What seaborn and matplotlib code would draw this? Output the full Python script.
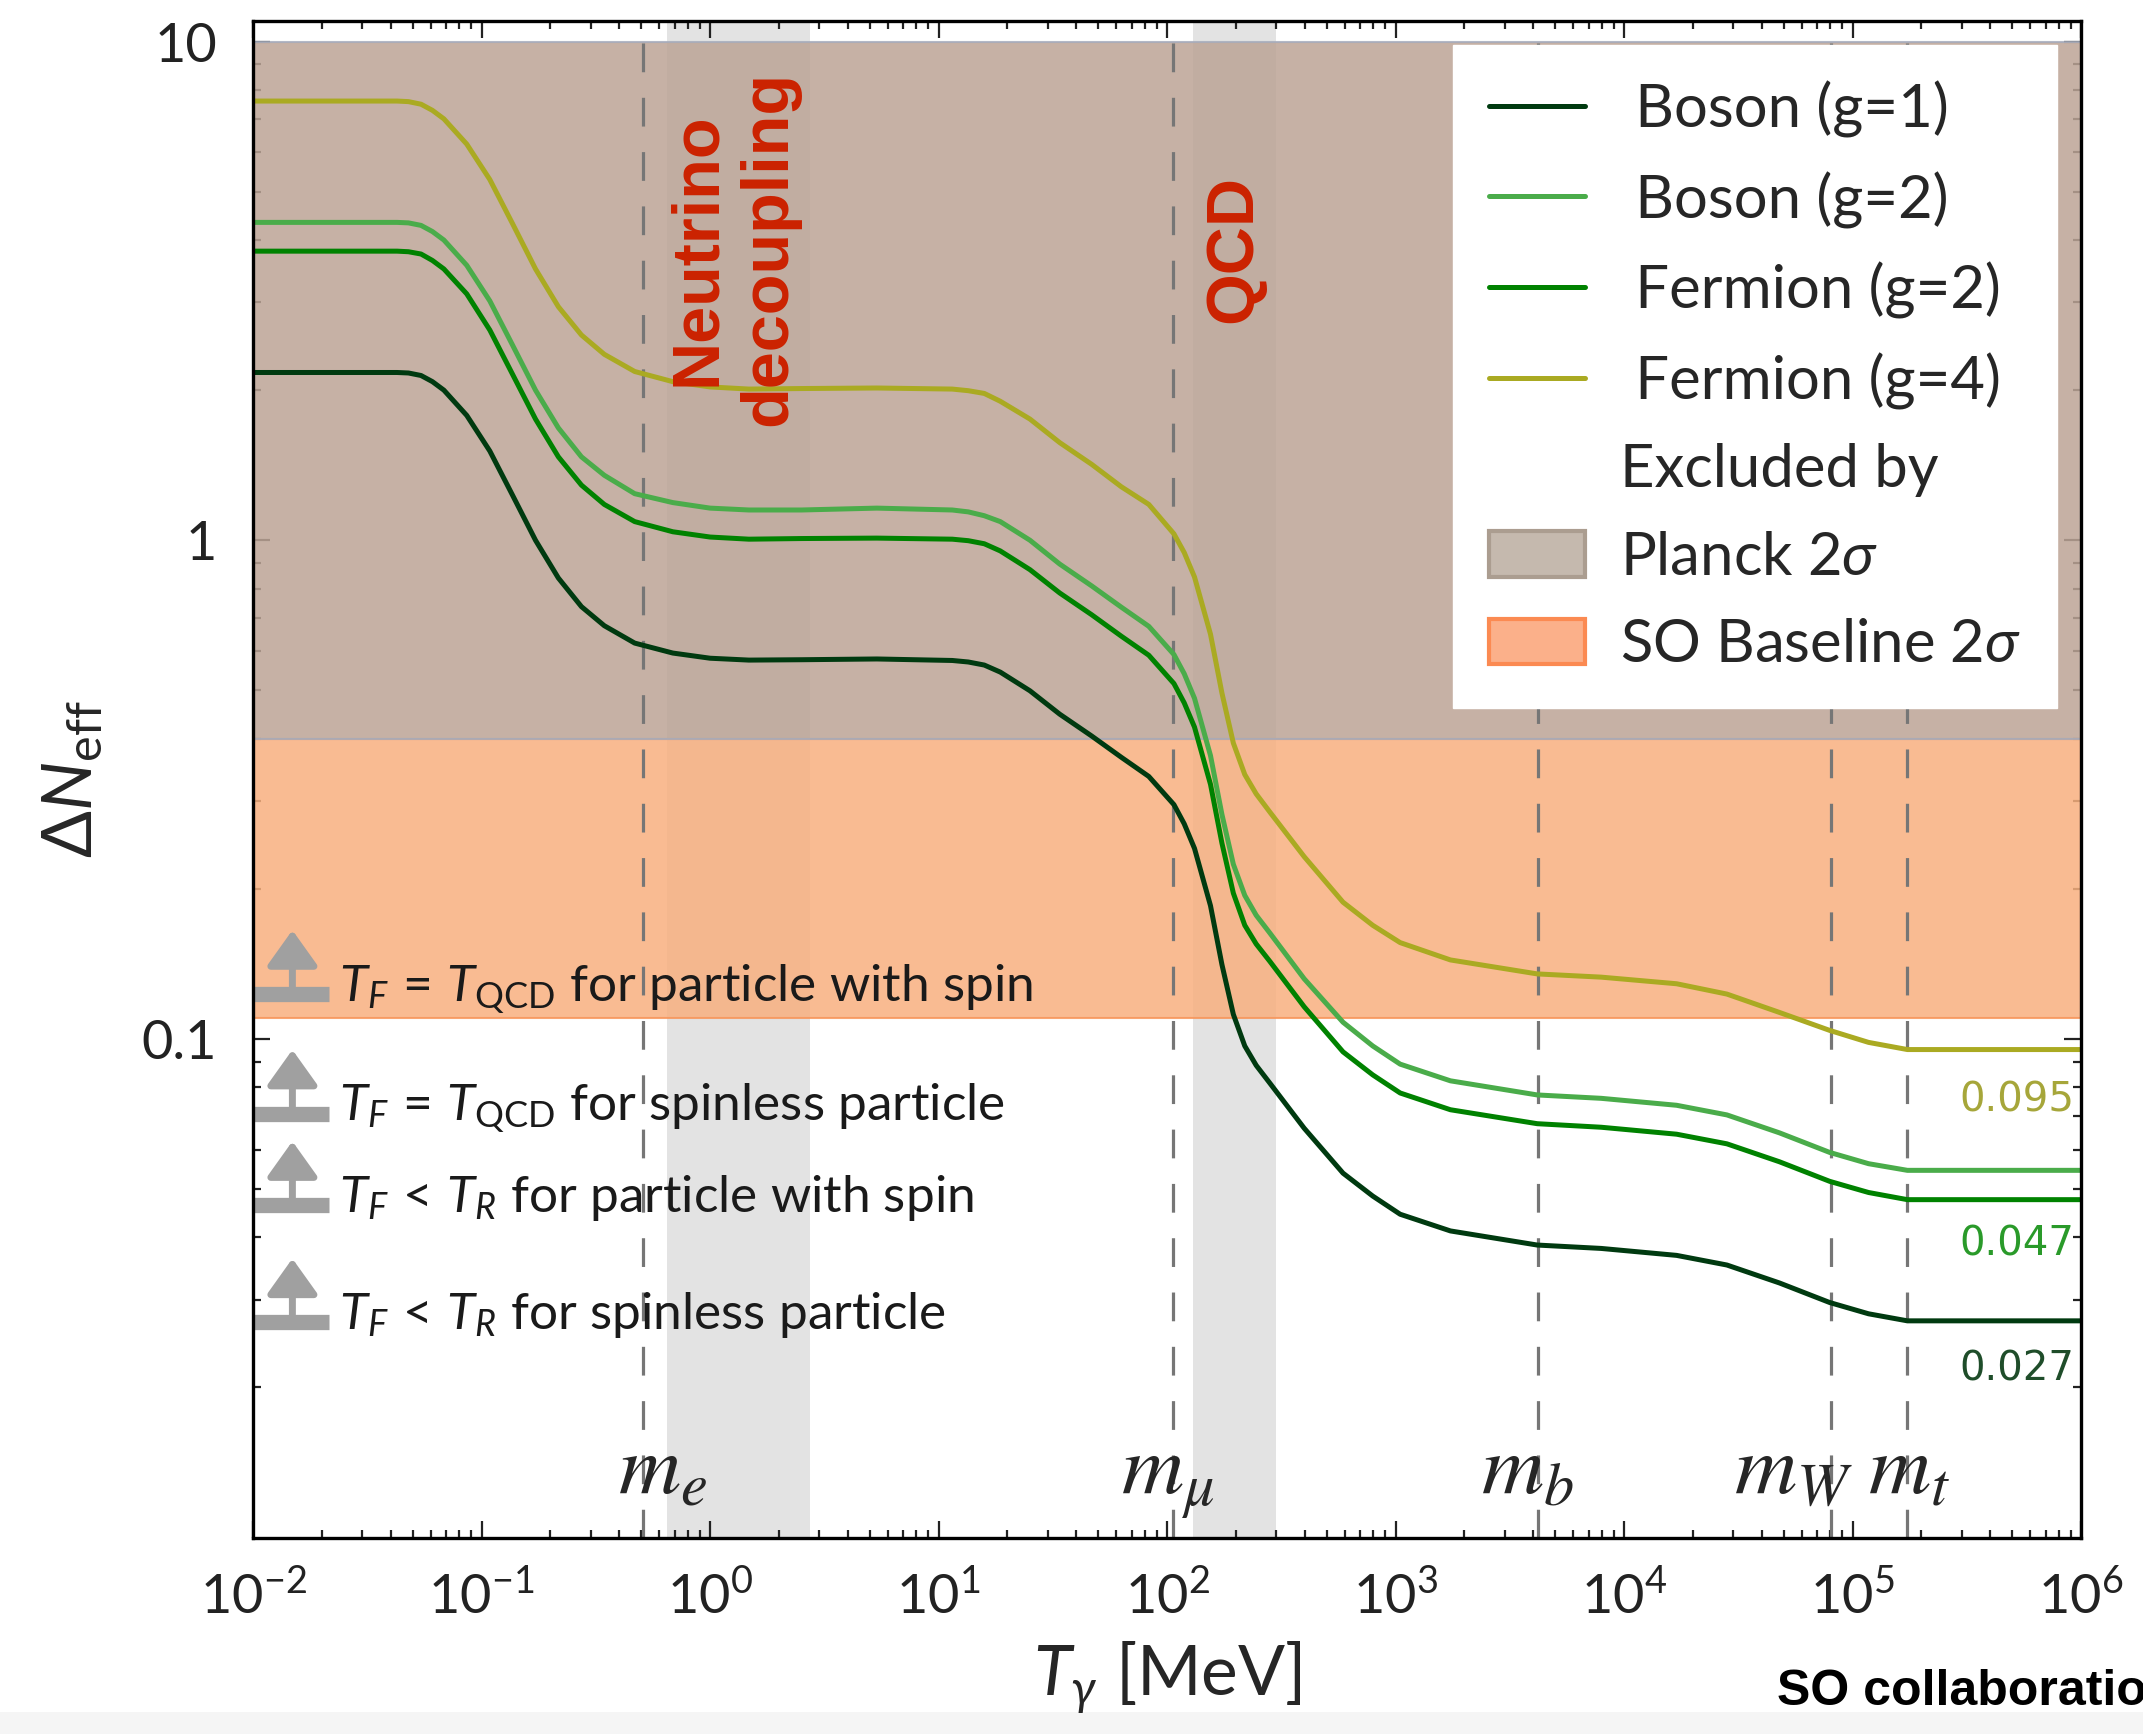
import numpy as np
import pandas as pd
import matplotlib
matplotlib.use("Agg")
import matplotlib.pyplot as plt
import matplotlib.transforms as mtransforms
from matplotlib.lines import Line2D
from matplotlib.patches import Patch, Rectangle, ArrowStyle
from matplotlib.ticker import (LogLocator, FixedLocator, FixedFormatter,
                               NullFormatter, LogFormatterSciNotation)
import seaborn as sns

# ------------------------------------------------------------------
# Data (log10 of T_gamma in MeV, Delta N_eff)
# ------------------------------------------------------------------
log_T = [-2.0, -1.37, -1.32, -1.265, -1.215, -1.165, -1.065, -0.964, -0.864,
         -0.764, -0.664, -0.563, -0.463, -0.33, -0.163, 0.0, 0.17, 0.4, 0.73,
         1.06, 1.13, 1.20, 1.27, 1.40, 1.53, 1.67, 1.80, 1.92, 2.03, 2.075, 2.12,
         2.19, 2.24, 2.29, 2.34, 2.39, 2.45, 2.60, 2.77, 2.90, 3.02, 3.24, 3.62,
         3.90, 4.23, 4.45, 4.68, 4.90, 5.07, 5.24, 6.0]

boson_g1 = [2.17, 2.17, 2.165, 2.14, 2.08, 2.00, 1.78, 1.51, 1.23, 1.00, 0.84,
            0.736, 0.674, 0.622, 0.594, 0.580, 0.575, 0.576, 0.578, 0.574, 0.570,
            0.562, 0.544, 0.499, 0.448, 0.405, 0.367, 0.336, 0.295, 0.270, 0.241,
            0.185, 0.141, 0.112, 0.0968, 0.0885, 0.0815, 0.0662, 0.0538, 0.0484,
            0.0445, 0.0412, 0.0386, 0.0380, 0.0368, 0.0352, 0.0324, 0.0296,
            0.0281, 0.0272, 0.0272]

boson_g2 = [4.34, 4.34, 4.33, 4.28, 4.16, 4.00, 3.56, 3.02, 2.46, 2.00, 1.68,
            1.47, 1.35, 1.24, 1.19, 1.16, 1.15, 1.15, 1.16, 1.15, 1.14, 1.12,
            1.09, 1.00, 0.896, 0.81, 0.734, 0.672, 0.59, 0.54, 0.482, 0.37,
            0.282, 0.224, 0.194, 0.177, 0.163, 0.132, 0.108, 0.0968, 0.089,
            0.0824, 0.0772, 0.076, 0.0736, 0.0704, 0.0648, 0.0592, 0.0562,
            0.0545, 0.0545]

fermion_g2 = [3.80, 3.80, 3.79, 3.75, 3.64, 3.50, 3.12, 2.64, 2.15, 1.75, 1.47,
              1.29, 1.18, 1.09, 1.04, 1.015, 1.005, 1.008, 1.01, 1.005, 0.998,
              0.984, 0.952, 0.873, 0.784, 0.709, 0.642, 0.588, 0.516, 0.472,
              0.422, 0.324, 0.247, 0.196, 0.169, 0.155, 0.143, 0.116, 0.0942,
              0.0847, 0.0779, 0.0721, 0.0676, 0.0665, 0.0644, 0.0616, 0.0567,
              0.0518, 0.0492, 0.0476, 0.0476]

fermion_g4 = [7.60, 7.60, 7.58, 7.49, 7.28, 7.00, 6.23, 5.29, 4.31, 3.50, 2.94,
              2.58, 2.36, 2.18, 2.08, 2.03, 2.01, 2.015, 2.02, 2.01, 1.995, 1.97,
              1.90, 1.75, 1.57, 1.42, 1.28, 1.18, 1.03, 0.945, 0.844, 0.648,
              0.494, 0.392, 0.339, 0.31, 0.285, 0.232, 0.188, 0.169, 0.156, 0.144,
              0.135, 0.133, 0.129, 0.123, 0.113, 0.104, 0.0984, 0.0952, 0.0952]

species = ["Boson (g=1)", "Boson (g=2)", "Fermion (g=2)", "Fermion (g=4)"]
species_colors = ["#003a10", "#4aac4a", "#008200", "#aaaa22"]

x_ticks = [1e-2, 1e-1, 1e0, 1e1, 1e2, 1e3, 1e4, 1e5, 1e6]
y_ticks = [0.1, 1, 10]
y_tick_labels = ["0.1", "1", "10"]

planck_band = (0.4, 10.0)
so_band = (0.11, 0.4)
neutrino_band = (0.65, 2.75)
qcd_band = (130.0, 300.0)

mass_names = ["$m_e$", "$m_\\mu$", "$m_b$", "$m_W$", "$m_t$"]
mass_values = [0.511, 105.7, 4180.0, 80400.0, 173000.0]

limit_levels = [0.123, 0.0708, 0.0464, 0.027]
limit_labels = [r"$T_F\,=\,T_{\rm QCD}$ for particle with spin",
                r"$T_F\,=\,T_{\rm QCD}$ for spinless particle",
                r"$T_F\,<\,T_R$ for particle with spin",
                r"$T_F\,<\,T_R$ for spinless particle"]

end_labels = ["0.095", "0.047", "0.027"]
end_label_y = [0.0754, 0.0387, 0.0217]
end_colors = ["#a6a63a", "#2a9a2a", "#1f4d2a"]

# ------------------------------------------------------------------
# Style
# ------------------------------------------------------------------
sns.set_theme(style="ticks")
plt.rcParams["font.family"] = ["Lato", "DejaVu Sans"]
plt.rcParams["mathtext.fontset"] = "custom"
plt.rcParams["mathtext.rm"] = "Lato"
plt.rcParams["mathtext.it"] = "Lato:italic"
plt.rcParams["mathtext.bf"] = "Lato:bold"

df = pd.DataFrame({
    "T": np.tile(np.power(10.0, log_T), 4),
    "dN": boson_g1 + boson_g2 + fermion_g2 + fermion_g4,
    "species": np.repeat(species, len(log_T)),
})

fig = plt.figure(figsize=(21.43, 17.34), dpi=100)
fig.patches.append(Rectangle((0, 0), 1, 22 / 1734, transform=fig.transFigure,
                             facecolor="#f5f5f5", edgecolor="none", zorder=-5))
ax = fig.add_axes([0.1181, 0.1133, 0.853, 0.8746])
ax.set_facecolor("white")

# bands
ax.axvspan(*neutrino_band, color="#e3e3e3", lw=0, zorder=0.5)
ax.axvspan(*qcd_band, color="#e3e3e3", lw=0, zorder=0.5)
ax.axhspan(*so_band, facecolor="#f8b07f", alpha=0.85, edgecolor="#f7955a",
           lw=1.5, zorder=1)
ax.axhspan(*planck_band, facecolor="#bca496", alpha=0.85, edgecolor="#a6acbc",
           lw=1.5, zorder=1.1)

# particle mass thresholds
for m in mass_values:
    ax.axvline(m, color="#767676", lw=2.3, ls=(0, (9, 8)), zorder=2)

# curves
sns.lineplot(data=df, x="T", y="dN", hue="species", hue_order=species,
             palette=dict(zip(species, species_colors)), lw=3.6, sort=False,
             errorbar=None, legend=False, ax=ax, zorder=3)

ax.set_xscale("log")
ax.set_yscale("log")
ax.set_xlim(1e-2, 1e6)
ax.set_ylim(1e-2, 11)

# ticks
ax.xaxis.set_major_locator(FixedLocator(x_ticks))
ax.xaxis.set_major_formatter(LogFormatterSciNotation())
ax.xaxis.set_minor_locator(LogLocator(base=10, subs=np.arange(2, 10), numticks=100))
ax.xaxis.set_minor_formatter(NullFormatter())
ax.yaxis.set_major_locator(FixedLocator(y_ticks))
ax.yaxis.set_major_formatter(FixedFormatter(y_tick_labels))
ax.yaxis.set_minor_locator(LogLocator(base=10, subs=np.arange(2, 10), numticks=100))
ax.yaxis.set_minor_formatter(NullFormatter())
ax.tick_params(which="both", direction="in", top=True, right=True, width=1.6,
               colors="#222222")
ax.tick_params(which="major", length=12)
ax.tick_params(which="minor", length=6)
ax.tick_params(axis="x", which="major", labelsize=39, pad=24)
ax.tick_params(axis="y", which="major", labelsize=39, pad=26)
for sp in ax.spines.values():
    sp.set_linewidth(2.4)
    sp.set_color("black")
    sp.set_zorder(5)

ax.set_xlabel(r"$T_\gamma$ [MeV]", fontsize=50, labelpad=12)
ax.set_ylabel(r"$\Delta N_{\rm eff}$", fontsize=50, labelpad=26)

# region labels
ax.text(np.sqrt(neutrino_band[0] * neutrino_band[1]) * 0.95, 3.84,
        "Neutrino\ndecoupling", rotation=90, ha="center", va="center",
        multialignment="center", linespacing=1.2, color="#cc2200",
        fontsize=48, fontweight="bold", family="Liberation Sans", zorder=4)
ax.text(196, 3.84, "QCD", rotation=90, ha="center", va="center",
        color="#cc2200", fontsize=48, fontweight="bold",
        family="Liberation Sans", zorder=4)

# mass labels
mass_offsets = [-18, -37, -41, -70, -28]
for name, m, off in zip(mass_names, mass_values, mass_offsets):
    ax.annotate(name, xy=(m, 0.0122), xytext=(off, 0), textcoords="offset points",
                ha="left", va="baseline", fontsize=62, math_fontfamily="stix",
                zorder=4)

# freeze-out arrows on the left
trans = mtransforms.blended_transform_factory(ax.transAxes, ax.transData)
head = ArrowStyle("<|-", head_length=0.7, head_width=0.5)
for lev, lab in zip(limit_levels, limit_labels):
    ax.plot([0, 0.0415], [lev, lev], transform=trans, color="#a0a0a0", lw=11,
            solid_capstyle="butt", zorder=4, clip_on=False)
    ax.annotate("", xy=(0.0215, lev), xycoords=trans, xytext=(0, 46),
                textcoords="offset points",
                arrowprops=dict(arrowstyle=head, color="#a0a0a0", lw=5,
                                mutation_scale=31, shrinkA=0, shrinkB=0),
                zorder=4)
    ax.annotate(lab, xy=(0.047, lev), xycoords=trans, xytext=(0, -5),
                textcoords="offset points", ha="left", va="baseline",
                fontsize=37, color="#1a1a1a", zorder=4)

# asymptotic values on the right
for lab, yv, c in zip(end_labels, end_label_y, end_colors):
    ax.text(0.9965, yv, lab, transform=trans, ha="right", va="center",
            fontsize=29, color=c, family="DejaVu Sans", zorder=4)

# legend
handles = [Line2D([], [], color=c, lw=3.6) for c in species_colors]
handles += [Patch(facecolor="none", edgecolor="none"),
            Patch(facecolor="#c5b9ae", edgecolor="#ab9d90", lw=3),
            Patch(facecolor="#fbb08a", edgecolor="#fb8a52", lw=3)]
labels = [" " + s for s in species] + ["Excluded by", r"Planck 2$\sigma$",
                                       r"SO Baseline 2$\sigma$"]
leg = ax.legend(handles, labels, loc="upper right", fontsize=43,
                frameon=True, fancybox=False, framealpha=1, edgecolor="white",
                facecolor="white", handlelength=1.6, handleheight=0.8,
                handletextpad=0.6, labelspacing=0.56, borderpad=0.6,
                borderaxespad=0.4)
leg.set_zorder(6)

# footer
fig.text(0.829, 0.0165, "SO collaboration", fontsize=36, fontweight="bold",
         family="Liberation Sans", ha="left", va="baseline", color="black")

fig.savefig("out.png", dpi=100)
